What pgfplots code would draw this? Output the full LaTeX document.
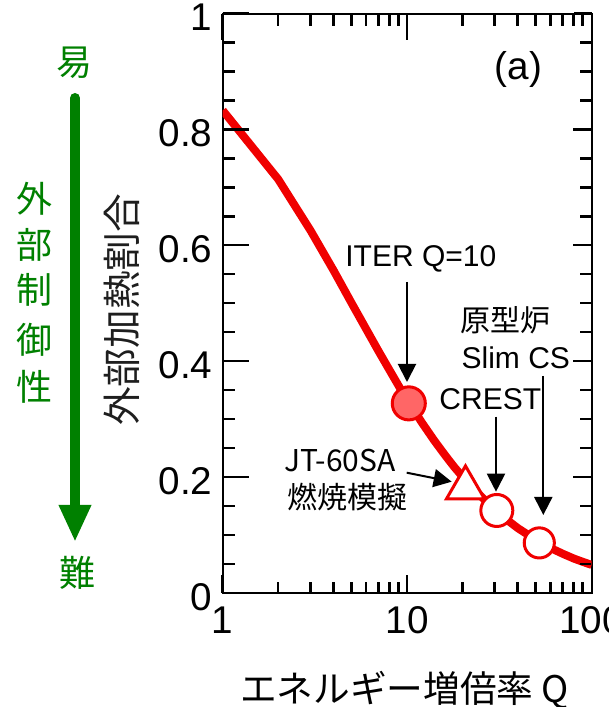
\documentclass[border=0pt]{standalone}
\usepackage{fontspec}
\setmainfont{Liberation Sans}
\newfontfamily\jp{Noto Sans CJK JP}
\usepackage{pgfplots}
\pgfplotsset{compat=1.18}
\usetikzlibrary{arrows.meta}
\definecolor{dgreen}{RGB}{0,128,0}
\definecolor{cred}{RGB}{240,0,0}
\definecolor{lred}{RGB}{255,102,102}
\definecolor{dgray}{RGB}{30,30,30}

\begin{document}
\begin{tikzpicture}
% frame ticks on left and top (longer)
\begin{axis}[
  width=276.75pt, height=434.25pt, scale only axis,
  xmode=log, xmin=1, xmax=100, ymin=0, ymax=1,
  axis line style={line width=1.5pt},
  tick align=inside, tick style={draw=black, line width=1.8pt},
  ytick={0,0.2,0.4,0.6,0.8,1}, minor ytick={0.05,0.1,0.15,0.25,0.3,0.35,0.45,0.5,0.55,0.65,0.7,0.75,0.85,0.9,0.95},
  xtick={1,10,100}, minor xtick={2,3,4,5,6,7,8,9,20,30,40,50,60,70,80,90},
  ytick pos=left, xtick pos=top,
  major tick length=19.5pt, minor tick length=9pt,
  xticklabel=\empty, yticklabel=\empty]
\end{axis}
% data axis, ticks on right and bottom (shorter), labels
\begin{axis}[
  width=276.75pt, height=434.25pt, scale only axis,
  xmode=log, xmin=1, xmax=100, ymin=0, ymax=1,
  axis line style={line width=1.5pt},
  tick align=inside, tick style={draw=black, line width=1.8pt},
  ytick={0,0.2,0.4,0.6,0.8,1}, minor ytick={0.05,0.1,0.15,0.25,0.3,0.35,0.45,0.5,0.55,0.65,0.7,0.75,0.85,0.9,0.95},
  xtick={1,10,100}, minor xtick={2,3,4,5,6,7,8,9,20,30,40,50,60,70,80,90},
  ytick pos=right, xtick pos=bottom,
  major tick length=13.5pt, minor tick length=8pt,
  yticklabel pos=left,
  /pgf/number format/assume math mode=true,
  yticklabels={0,0.2,0.4,0.6,0.8,1}, xticklabels={1,10,100},
  yticklabel style={font=\fontsize{29}{30}\selectfont, inner sep=0pt, xshift=-7.5pt, yshift=-3pt},
  xticklabel style={font=\fontsize{29}{30}\selectfont, inner sep=0pt, yshift=-10.5pt}]
\addplot[cred, line width=6pt, line join=round] coordinates {
 (1,0.833) (2,0.714) (3,0.625) (4,0.556) (5,0.500) (6,0.455) (7,0.417)
 (8,0.385) (9,0.357) (10,0.333) (12,0.294) (14,0.263) (16,0.238) (18,0.217)
 (20,0.200) (25,0.167) (30,0.143) (35,0.125) (40,0.111) (50,0.091)
 (60,0.077) (70,0.067) (80,0.059) (90,0.053) (100,0.048)};
\addplot[only marks, mark=*, mark size=12.4pt, draw=cred, fill=lred, line width=2.25pt] coordinates {(10.2,0.327)};
\addplot[only marks, mark=triangle*, mark size=16.5pt, draw=cred, fill=white, line width=2.25pt] coordinates {(20.7,0.181)};
\addplot[only marks, mark=*, mark size=12pt, draw=cred, fill=white, line width=2.25pt] coordinates {(30.6,0.142)};
\addplot[only marks, mark=*, mark size=11.3pt, draw=cred, fill=white, line width=2.25pt] coordinates {(52,0.086)};
\end{axis}

\begin{scope}[x=0.75pt,y=-0.75pt,shift={(-222.7,-592.7)}]
 % the same inward ticks, drawn again along the frame
 \begin{scope}[black, line width=1.8pt]
  \foreach \v in {0.2,0.4,0.6,0.8} {
   \draw (222.7,{592.7-579*\v}) -- ++(26,0);
   \draw (590.7,{592.7-579*\v}) -- ++(-18,0);
  }
  \foreach \v in {0.05,0.1,0.15,0.25,0.3,0.35,0.45,0.5,0.55,0.65,0.7,0.75,0.85,0.9,0.95} {
   \draw (222.7,{592.7-579*\v}) -- ++(12,0);
   \draw (590.7,{592.7-579*\v}) -- ++(-10.7,0);
  }
  \draw (406.7,13.7) -- ++(0,26);
  \draw (406.7,592.7) -- ++(0,-18);
  \foreach \v in {2,3,4,5,6,7,8,9,20,30,40,50,60,70,80,90} {
   \draw ({222.7+184*log10(\v)},13.7) -- ++(0,12);
   \draw ({222.7+184*log10(\v)},592.7) -- ++(0,-10.7);
  }
 \end{scope}
 \node[font=\fontsize{29}{31}\selectfont] at (518.3,69.2) {(a)};
 \node[font=\fontsize{22.5}{24}\selectfont, anchor=base] at (420.8,266.7) {ITER Q=10};
 \node[font=\jp\fontsize{22.5}{24}\selectfont] at (505.8,320.7) {原型炉};
 \node[font=\fontsize{22.5}{24}\selectfont, anchor=base] at (515.8,368.3) {Slim CS};
 \node[font=\fontsize{22.5}{24}\selectfont, anchor=base] at (490.3,410) {CREST};
 \node[font=\jp\fontsize{22.5}{24}\selectfont, anchor=base] at (340,471.7) {JT-60SA};
 \node[font=\jp\fontsize{22.5}{24}\selectfont] at (347.8,496.7) {燃焼模擬};
 \begin{scope}[black, line width=1.5pt, -{Triangle[length=13.5pt,width=13.5pt]}]
  \draw (407,282) -- (407,382);
  \draw (496,416.7) -- (496,491.7);
  \draw (543.3,376) -- (543.3,515);
  \draw (406.7,472.7) -- (451.7,481.7);
 \end{scope}
 \draw[dgreen, line width=7.5pt, line cap=round, -{Triangle[length=27.75pt,width=22.5pt]}] (75,98) -- (75,542);
 \begin{scope}[dgreen, font=\jp\fontsize{27}{29}\selectfont]
  \node at (75,63) {易};
  \node at (78,573) {難};
  \node at (35,199) {外};
  \node at (35,245) {部};
  \node at (35,290) {制};
  \node at (35,340) {御};
  \node at (35,387) {性};
 \end{scope}
 \node[rotate=90, text=dgray, font=\jp\fontsize{29}{30}\selectfont] at (122,310) {外部加熱割合};
 \node[font=\jp\fontsize{27.5}{29}\selectfont] at (404.5,690) {エネルギー増倍率 Q};
 \pgfresetboundingbox
 \path[use as bounding box] (0,0) rectangle (608,707);
\end{scope}
\end{tikzpicture}
\end{document}
